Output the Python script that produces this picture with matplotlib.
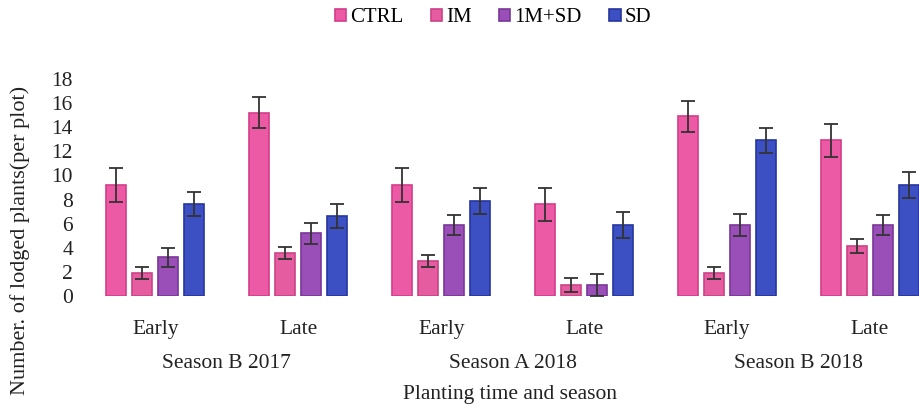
import numpy as np
import matplotlib
matplotlib.use("Agg")
import matplotlib.pyplot as plt

plt.rcParams['font.family'] = ['Liberation Serif', 'DejaVu Serif']

# mean lodged plants per plot and standard errors
times = ['Early', 'Late', 'Early', 'Late', 'Early', 'Late']
seasons = ['Season B 2017', 'Season A 2018', 'Season B 2018']
treatments = ['CTRL', 'IM', '1M+SD', 'SD']

ctrl = [9.2, 15.2, 9.2, 7.6, 14.9, 12.9]
im = [1.9, 3.6, 2.9, 0.9, 1.9, 4.15]
imsd = [3.2, 5.2, 5.9, 0.9, 5.9, 5.9]
sd = [7.6, 6.6, 7.9, 5.9, 12.9, 9.2]

ctrl_err = [1.4, 1.3, 1.4, 1.4, 1.3, 1.4]
im_err = [0.5, 0.5, 0.5, 0.6, 0.5, 0.55]
imsd_err = [0.8, 0.85, 0.8, 0.9, 0.9, 0.8]
sd_err = [1.0, 1.0, 1.1, 1.1, 1.0, 1.1]

fills = ['#ec5aa6', '#e65ca0', '#9a4fb8', '#3c50c4']
edges = ['#d43c88', '#cc4286', '#7a3698', '#26369e']

fig = plt.figure(figsize=(9.19, 4.12), dpi=100)
ax = fig.add_axes([84/919, 1-296/412, (919-84)/919, 217/412])

x = np.arange(len(times))
step = 26/143
width = 20/143
series = [ctrl, im, imsd, sd]
errs = [ctrl_err, im_err, imsd_err, sd_err]
for i, (vals, err) in enumerate(zip(series, errs)):
    pos = x + (i - 1.5) * step
    ax.bar(pos, vals, width, color=fills[i], edgecolor=edges[i], linewidth=1.2,
           label=treatments[i])
    ax.errorbar(pos, vals, yerr=err, fmt='none', ecolor='#333333',
                elinewidth=1.3, capsize=5, capthick=1.3)

ax.set_xlim(-0.5, (919-155)/143)
ax.set_ylim(0, 18)
ax.set_yticks(range(0, 19, 2))
ax.set_xticks(x)
ax.set_xticklabels(times)
ax.tick_params(axis='both', length=0, labelsize=15.5, colors='#222222')
ax.tick_params(axis='x', pad=17)
ax.tick_params(axis='y', pad=8)
for s in ax.spines.values():
    s.set_visible(False)

# season labels between Early/Late pairs
for k, name in enumerate(seasons):
    ax.text(2*k + 0.5, -0.31, name, transform=ax.get_xaxis_transform(),
            ha='center', va='center', fontsize=15.5, color='#222222')

fig.text(510/919, 1-395/412, 'Planting time and season', ha='center', va='center',
         fontsize=15.5, color='#222222')
fig.text(20/919, 1-240/412, 'Number. of lodged plants(per plot)', rotation=90,
         ha='center', va='center', fontsize=16, color='#222222')

fig.legend(loc='center', bbox_to_anchor=(493/919, 1-18/412), ncol=4, frameon=False,
           fontsize=15, handlelength=0.55, handleheight=0.55, handletextpad=0.2,
           columnspacing=1.3)

fig.savefig('out.png', dpi=100)
